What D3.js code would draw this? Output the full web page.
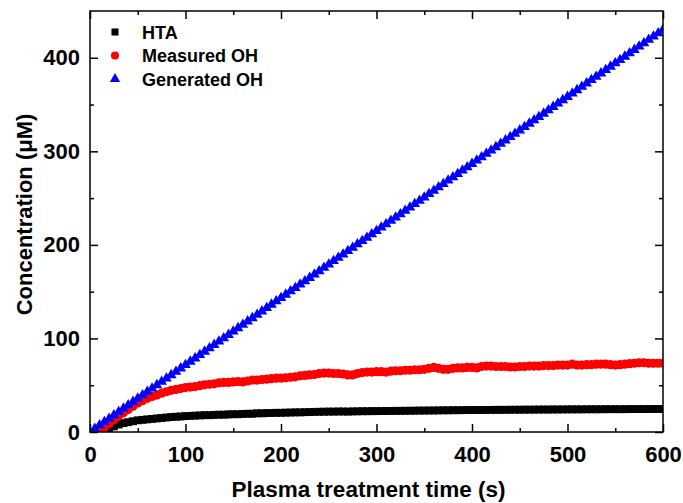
<!DOCTYPE html>
<html>
<head>
<meta charset="utf-8">
<style>
  body { margin: 0; background: #fff; }
  text { font-family: Arial, "Liberation Sans", sans-serif; font-weight: bold; }
</style>
</head>
<body>
<script src="https://cdn.jsdelivr.net/npm/d3@7"></script>
<script>
// time points (s), one every 5 s from 0 to 600
var times = d3.range(0, 601, 5);

// HTA (uM), null before the signal starts
var hta = [null, null, null, 0, 3, 6, 8, 9.5, 10.5, 11.5,
  12.5, 13, 13.5, 14, 14.5, 15, 15.5, 16, 16.3, 16.6,
  17, 17.2, 17.5, 17.7, 18, 18, 18.3, 18.5, 18.5, 18.8,
  19, 19, 19.3, 19.5, 19.5, 20, 20, 20.2, 20.3, 20.5,
  20.5, 20.7, 20.8, 21, 21, 21.2, 21.3, 21.5, 21.6, 21.7,
  21.8, 21.8, 21.9, 21.9, 21.8, 22, 22.1, 22.2, 22.2, 22.3,
  22.3, 22.4, 22.4, 22.5, 22.6, 22.6, 22.7, 22.7, 22.8, 22.9,
  22.9, 23, 23, 23.1, 23.2, 23.2, 23.3, 23.3, 23.4, 23.4,
  23.5, 23.5, 23.5, 23.6, 23.6, 23.7, 23.7, 23.7, 23.8, 23.8,
  23.8, 23.9, 23.9, 23.9, 24, 24, 24, 24.1, 24.1, 24.1,
  24.2, 24.2, 24.2, 24.2, 24.3, 24.3, 24.3, 24.3, 24.4, 24.4,
  24.4, 24.4, 24.4, 24.5, 24.5, 24.5, 24.5, 24.5, 24.6, 24.6,
  24.6];

// Measured OH (uM)
var measured = [null, null, 1, 5, 9, 13, 17, 20.5, 24, 27.5,
  31, 33.5, 36, 38, 39.5, 41.5, 43, 44.5, 45.5, 46.5,
  47.5, 48, 48.5, 49.5, 50.5, 51, 51.5, 52.5, 53, 53,
  53.5, 54, 53.5, 54.5, 55.5, 55.5, 56, 56.5, 57, 57.5,
  57.5, 58, 58.5, 59, 60, 60.5, 61, 61.5, 62.5, 63,
  63, 62.5, 62.5, 62, 61, 61, 62.5, 63.5, 64, 64,
  64.5, 64.5, 64, 65, 65.5, 65.5, 66, 66, 66.5, 66.5,
  67, 68, 69, 68, 67, 67, 68, 68.5, 68.5, 69,
  69, 68.5, 70, 70.5, 70.5, 70, 70, 70, 69.5, 69.5,
  70, 70, 70.5, 70.5, 70.5, 71, 71, 71, 71.5, 71.5,
  71.5, 72.5, 71.5, 71.5, 72, 72, 72.5, 72.5, 72.5, 72,
  71.5, 72, 72.5, 73, 73.5, 74, 74, 73.5, 73.5, 73.5,
  73.5];

// Generated OH (uM)
var generated = [0, 3.6, 7.2, 10.8, 14.3, 17.9, 21.5, 25.1, 28.7, 32.3,
  35.8, 39.4, 43.0, 46.6, 50.2, 53.8, 57.3, 60.9, 64.5, 68.1,
  71.7, 75.3, 78.8, 82.4, 86.0, 89.6, 93.2, 96.8, 100.3, 103.9,
  107.5, 111.1, 114.7, 118.3, 121.8, 125.4, 129.0, 132.6, 136.2, 139.8,
  143.3, 146.9, 150.5, 154.1, 157.7, 161.3, 164.8, 168.4, 172.0, 175.6,
  179.2, 182.8, 186.3, 189.9, 193.5, 197.1, 200.7, 204.3, 207.8, 211.4,
  215.0, 218.6, 222.2, 225.8, 229.3, 232.9, 236.5, 240.1, 243.7, 247.3,
  250.8, 254.4, 258.0, 261.6, 265.2, 268.8, 272.3, 275.9, 279.5, 283.1,
  286.7, 290.3, 293.8, 297.4, 301.0, 304.6, 308.2, 311.8, 315.3, 318.9,
  322.5, 326.1, 329.7, 333.3, 336.8, 340.4, 344.0, 347.6, 351.2, 354.8,
  358.3, 361.9, 365.5, 369.1, 372.7, 376.3, 379.8, 383.4, 387.0, 390.6,
  394.2, 397.8, 401.3, 404.9, 408.5, 412.1, 415.7, 419.3, 422.8, 426.4,
  430.0];

var seriesNames = ["HTA", "Measured OH", "Generated OH"];
var seriesColors = ["#000000", "#ff0000", "#0000ff"];
var seriesSymbols = [d3.symbolSquare, d3.symbolCircle, d3.symbolTriangle];
var seriesSizes = [62, 66, 50];
var legendSizes = [50, 52, 46];
var seriesValues = [hta, measured, generated];

var xTicks = [0, 100, 200, 300, 400, 500, 600];
var yTicks = [0, 100, 200, 300, 400];

// dimensions
var width = 683, height = 503;
var margin = {top: 11, right: 20, bottom: 71, left: 90};
var w = width - margin.left - margin.right;
var h = height - margin.top - margin.bottom;

var x = d3.scaleLinear().domain([0, 600]).range([0, w]);
var y = d3.scaleLinear().domain([0, 450]).range([h, 0]);

var svg = d3.select("body").append("svg")
  .attr("width", width)
  .attr("height", height)
  .append("g")
  .attr("transform", "translate(" + margin.left + "," + margin.top + ")");

svg.append("clipPath").attr("id", "clip")
  .append("rect").attr("width", w).attr("height", h);

// data markers
var plot = svg.append("g").attr("clip-path", "url(#clip)");
seriesValues.forEach(function(vals, i) {
  var pts = times.map(function(t, j) { return {t: t, v: vals[j]}; })
    .filter(function(d) { return d.v != null; });
  plot.append("g").selectAll("path")
    .data(pts)
    .enter().append("path")
    .attr("d", d3.symbol().type(seriesSymbols[i]).size(seriesSizes[i]))
    .attr("transform", function(d) { return "translate(" + x(d.t) + "," + y(d.v) + ")"; })
    .attr("fill", seriesColors[i]);
});

// axes, ticks pointing inward, mirrored on top/right
function styleAxis(g) {
  g.select(".domain").remove();
  g.selectAll("line").attr("stroke", "#000").attr("stroke-width", 1.5);
}
var xMinor = d3.range(50, 600, 100);
var yMinor = d3.range(50, 450, 100);

svg.append("g").attr("transform", "translate(0," + h + ")")
  .call(d3.axisBottom(x).tickValues(xTicks).tickSize(-8).tickPadding(14))
  .call(styleAxis)
  .selectAll("text").attr("font-size", 22).attr("fill", "#000");
svg.append("g").attr("transform", "translate(0," + h + ")")
  .call(d3.axisBottom(x).tickValues(xMinor).tickSize(-4).tickFormat(""))
  .call(styleAxis);
svg.append("g")
  .call(d3.axisTop(x).tickValues(xTicks).tickSize(-8).tickFormat(""))
  .call(styleAxis);
svg.append("g")
  .call(d3.axisTop(x).tickValues(xMinor).tickSize(-4).tickFormat(""))
  .call(styleAxis);

svg.append("g")
  .call(d3.axisLeft(y).tickValues(yTicks).tickSize(-8).tickPadding(10))
  .call(styleAxis)
  .selectAll("text").attr("font-size", 22).attr("fill", "#000");
svg.append("g")
  .call(d3.axisLeft(y).tickValues(yMinor).tickSize(-4).tickFormat(""))
  .call(styleAxis);
svg.append("g").attr("transform", "translate(" + w + ",0)")
  .call(d3.axisRight(y).tickValues(yTicks).tickSize(-8).tickFormat(""))
  .call(styleAxis);
svg.append("g").attr("transform", "translate(" + w + ",0)")
  .call(d3.axisRight(y).tickValues(yMinor).tickSize(-4).tickFormat(""))
  .call(styleAxis);

// frame
svg.append("rect")
  .attr("width", w).attr("height", h)
  .attr("fill", "none").attr("stroke", "#000").attr("stroke-width", 1.5);

// axis titles
svg.append("text")
  .attr("x", w / 2 - 8)
  .attr("y", h + 65)
  .attr("text-anchor", "middle")
  .attr("font-size", 22.5)
  .text("Plasma treatment time (s)");

svg.append("text")
  .attr("transform", "rotate(-90)")
  .attr("x", -(h / 2) + 7)
  .attr("y", -58)
  .attr("text-anchor", "middle")
  .attr("font-size", 22)
  .text("Concentration (\u03BCM)");

// legend
var legend = svg.append("g").attr("transform", "translate(25,21)");
seriesNames.forEach(function(name, i) {
  var row = legend.append("g").attr("transform", "translate(0," + (i * 23.5) + ")");
  row.append("path")
    .attr("d", d3.symbol().type(seriesSymbols[i]).size(legendSizes[i]))
    .attr("fill", seriesColors[i]);
  row.append("text")
    .attr("x", 27)
    .attr("y", 6.5)
    .attr("font-size", 18)
    .text(name);
});
</script>
</body>
</html>
